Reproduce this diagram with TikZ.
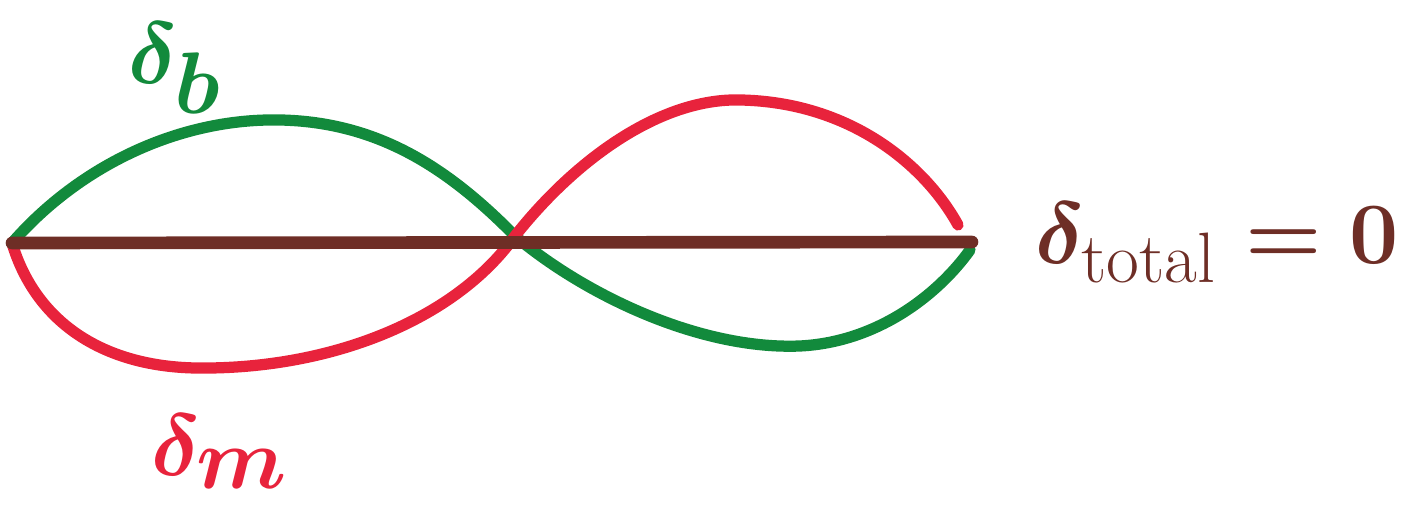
\documentclass[tikz,border=0pt]{standalone}
\usepackage{amsmath}
\definecolor{mgreen}{HTML}{128A3C}
\definecolor{mred}{HTML}{E8233C}
\definecolor{mbrown}{HTML}{6E2E26}
\begin{document}
\begin{tikzpicture}[x=0.01cm,y=-0.01cm,
  pen/.style={line width=3.2pt,line cap=round,line join=round},
  lab/.style={inner sep=0pt,font=\fontsize{34}{38}\selectfont\boldmath}]
\useasboundingbox (0,0) rectangle (1408,531);
\coordinate (L) at (12,243);
\coordinate (R) at (972,242);
\coordinate (C) at (515,236);
\coordinate (Gpk) at (280,120);
\coordinate (Gbt) at (800,346);
\coordinate (Rbt) at (195,368);
\coordinate (Rpk) at (740,100);
\coordinate (Rend) at (958,225);
% green
\draw[pen,mgreen] (L) .. controls (80,165) and (180,118) .. (Gpk)
  .. controls (380,122) and (450,170) .. (C)
  .. controls (585,295) and (700,350) .. (Gbt)
  .. controls (880,342) and (940,292) .. (970,250);
% red
\draw[pen,mred] (L) .. controls (35,320) and (100,366) .. (Rbt)
  .. controls (330,370) and (455,320) .. (C)
  .. controls (575,160) and (660,98) .. (Rpk)
  .. controls (850,102) and (925,165) .. (Rend);
% brown
\draw[pen,mbrown,line width=3.6pt] (L) -- (R);
% labels
\node[lab,text=mgreen] (db) at (175,68) {$\delta_b$};
\node[lab,text=mred,font=\fontsize{38}{42}\selectfont\boldmath] (dm) at (220,452) {$\delta_m$};
\node[lab,text=mbrown,anchor=west,font=\fontsize{29}{34}\selectfont\boldmath] (dt) at (1035,243) {$\delta_{\text{total}}=0$};
\end{tikzpicture}
\end{document}
